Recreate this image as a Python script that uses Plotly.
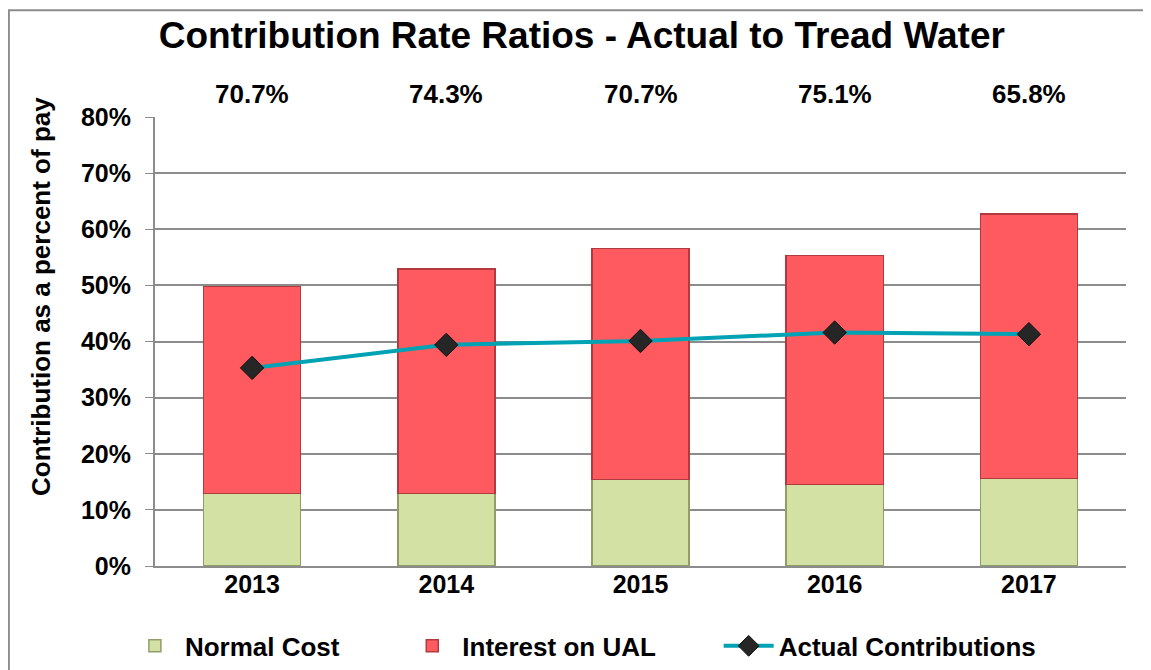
import plotly.graph_objects as go

years = ['2013', '2014', '2015', '2016', '2017']
normal_cost = [12.9, 12.9, 15.4, 14.5, 15.6]
interest_on_ual = [36.9, 40.0, 41.2, 40.8, 47.1]
actual_contributions = [35.3, 39.4, 40.1, 41.6, 41.3]
ratio_labels = ['70.7%', '74.3%', '70.7%', '75.1%', '65.8%']

FONT = 'Arial, Liberation Sans, sans-serif'
PAD = '\u00a0' * 8  # extra space between legend entries

fig = go.Figure()
fig.add_trace(go.Bar(
    x=years, y=normal_cost, name='<b>Normal Cost</b>' + PAD,
    marker=dict(color='#d3e2a4', line=dict(color='#8f9e68', width=1.5)),
))
fig.add_trace(go.Bar(
    x=years, y=interest_on_ual, name='<b>Interest on UAL</b>' + PAD,
    marker=dict(color='#ff5a5f', line=dict(color='#b23a3e', width=1.5)),
))
fig.add_trace(go.Scatter(
    x=years, y=actual_contributions, name='<b>Actual Contributions</b>',
    mode='lines+markers',
    line=dict(color='#00a2b3', width=4),
    marker=dict(symbol='diamond', size=18, color='#262626', line=dict(color='#111111', width=1)),
))

# ratio labels above each column (x given as category index)
for i, lab in enumerate(ratio_labels):
    fig.add_annotation(x=i, y=1, xref='x', yref='paper', yanchor='bottom', yshift=6,
                       text='<b>' + lab + '</b>', showarrow=False,
                       font=dict(size=26, color='black', family=FONT))

# y axis title
fig.add_annotation(x=-0.118, y=0.6, xref='paper', yref='paper', textangle=-90,
                   xanchor='center', yanchor='middle',
                   text='<b>Contribution as a percent of pay</b>', showarrow=False,
                   font=dict(size=26, color='black', family=FONT))

# outer frame
fig.add_shape(type='rect', xref='paper', yref='paper', x0=-0.1505, x1=1.1, y0=-0.3, y1=1.238,
              line=dict(color='#8c8c8c', width=2), layer='below')

fig.update_layout(
    width=1143, height=662,
    margin=dict(l=147, r=25, t=109, b=104, autoexpand=False),
    paper_bgcolor='white', plot_bgcolor='white',
    barmode='stack', bargap=0.5,
    font=dict(family=FONT, size=25, color='black'),
    title=dict(text='<b>Contribution Rate Ratios - Actual to Tread Water</b>',
               x=0.502, xanchor='center', y=0.959, yanchor='middle',
               font=dict(size=37, color='black', family=FONT)),
    xaxis=dict(type='category', range=[-0.5, 4.5], showgrid=False, showline=True,
               linecolor='#8c8c8c', linewidth=2,
               ticks='', tickfont=dict(size=25), automargin=False, ticklabelstandoff=-5,
               tickvals=years, ticktext=['<b>' + y + '</b>' for y in years]),
    yaxis=dict(range=[0, 80], showgrid=True, automargin=False,
               gridcolor='#8c8c8c', gridwidth=1.5, showline=True, linecolor='#8c8c8c',
               linewidth=2, ticks='outside', ticklen=8, tickcolor='#8c8c8c',
               tickfont=dict(size=25), ticklabelstandoff=9, zeroline=False,
               tickvals=list(range(0, 81, 10)),
               ticktext=['<b>%d%%</b>' % v for v in range(0, 81, 10)]),
    legend=dict(orientation='h', x=-0.031, xanchor='left', y=-0.178, yanchor='middle',
                font=dict(size=26), traceorder='normal', itemwidth=50),
    showlegend=True,
)

fig.write_html('out.html')
